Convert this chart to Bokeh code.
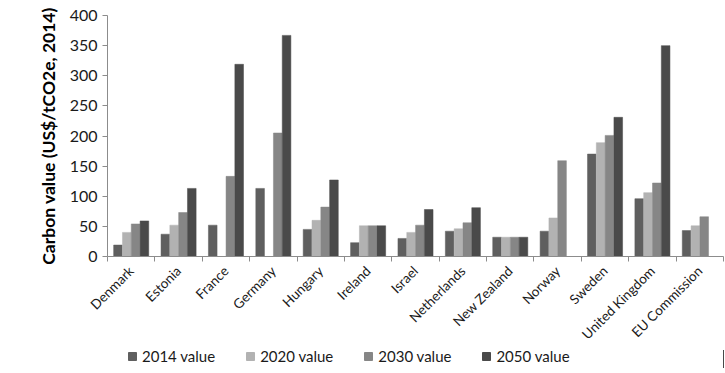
import math
from bokeh.plotting import figure
from bokeh.layouts import column
from bokeh.models import FixedTicker, Legend, LegendItem, ColumnDataSource, Range1d
from bokeh.embed import file_html
from bokeh.resources import INLINE

countries = ["Denmark", "Estonia", "France", "Germany", "Hungary", "Ireland", "Israel",
             "Netherlands", "New Zealand", "Norway", "Sweden", "United Kingdom", "EU Commission"]
v2014 = [19, 37, 52, 113, 45, 23, 30, 42, 32, 42, 170, 96, 43]
v2020 = [40, 52, 0, 0, 60, 51, 40, 46, 32, 64, 189, 106, 51]
v2030 = [54, 73, 133, 205, 82, 51, 52, 56, 32, 159, 201, 122, 66]
v2050 = [59, 113, 319, 367, 127, 51, 78, 81, 32, 0, 231, 350, 0]
series_names = ["2014 value", "2020 value", "2030 value", "2050 value"]
colors = ["#5f5f5f", "#b2b2b2", "#868686", "#4a4a4a"]
y_ticks = [0, 50, 100, 150, 200, 250, 300, 350, 400]

FONT = "Lato"
n = len(countries)
bw = 0.186

p = figure(frame_width=616, frame_height=241, output_backend="svg", toolbar_location=None,
           x_range=Range1d(0, n), y_range=Range1d(0, 400))
p.min_border_left = 107
p.min_border_right = 2
p.min_border_top = 15
p.min_border_bottom = 0
p.outline_line_color = None
p.xgrid.grid_line_color = None
p.ygrid.grid_line_color = None
p.background_fill_color = "white"
p.border_fill_color = "white"

sources = []
for k, (vals, col) in enumerate(zip([v2014, v2020, v2030, v2050], colors)):
    xs = [i + 0.5 + (k - 1.5) * bw for i in range(n)]
    src = ColumnDataSource(dict(x=xs, top=vals))
    sources.append(src)
    p.vbar(x="x", top="top", bottom=0, width=bw * 0.98, source=src,
           fill_color=col, line_color=col, line_width=0.5)

# x axis
xa = p.xaxis[0]
xa.ticker = FixedTicker(ticks=[i + 0.5 for i in range(n)], minor_ticks=list(range(n + 1)))
xa.major_label_overrides = {i + 0.5: c for i, c in enumerate(countries)}
xa.major_tick_line_color = None
xa.minor_tick_line_color = "#8c8c8c"
xa.minor_tick_out = 5
xa.minor_tick_in = 0
xa.axis_line_color = "#8c8c8c"
xa.major_label_orientation = math.pi / 4
xa.major_label_text_font = FONT
xa.major_label_text_font_size = "13.5px"
xa.major_label_text_color = "#1a1a1a"
xa.major_label_standoff = 6

ya = p.yaxis[0]
ya.ticker = FixedTicker(ticks=y_ticks)
ya.axis_line_color = "#8c8c8c"
ya.major_tick_line_color = "#8c8c8c"
ya.major_tick_out = 5
ya.major_tick_in = 0
ya.minor_tick_line_color = None
ya.major_label_text_font = FONT
ya.major_label_text_font_size = "16px"
ya.major_label_text_color = "#1a1a1a"
ya.axis_label = "Carbon value (US$/tCO2e, 2014)"
ya.axis_label_text_font = FONT
ya.axis_label_text_font_size = "17.5px"
ya.axis_label_text_font_style = "bold"
ya.axis_label_text_color = "#000000"
ya.axis_label_standoff = 8

# legend strip (separate small figure so the legend is not clipped by the frame)
lg = figure(width=725, height=18, output_backend="svg", toolbar_location=None,
            x_axis_type=None, y_axis_type=None,
            x_range=Range1d(-200, -199), y_range=Range1d(0, 1))
lg.min_border_left = 0
lg.min_border_right = 0
lg.min_border_top = 0
lg.min_border_bottom = 0
lg.outline_line_color = None
lg.xgrid.grid_line_color = None
lg.ygrid.grid_line_color = None
lg.border_fill_color = "white"
lg.background_fill_color = "white"

items = []
for name, col, src in zip(series_names, colors, sources):
    r = lg.vbar(x="x", top="top", bottom=0, width=bw, source=src,
                fill_color=col, line_color=col)
    items.append(LegendItem(label=name, renderers=[r]))

legend = Legend(items=items, orientation="horizontal", location=(20, 3),
                label_text_font=FONT, label_text_font_size="15px",
                label_text_color="#1a1a1a", glyph_width=10, glyph_height=10,
                label_height=16, spacing=30, padding=0, margin=0,
                border_line_color=None, background_fill_alpha=0, label_standoff=5)
lg.add_layout(legend, "center")

layout = column(p, lg, spacing=0)
open("out.html", "w").write(file_html(layout, INLINE))
